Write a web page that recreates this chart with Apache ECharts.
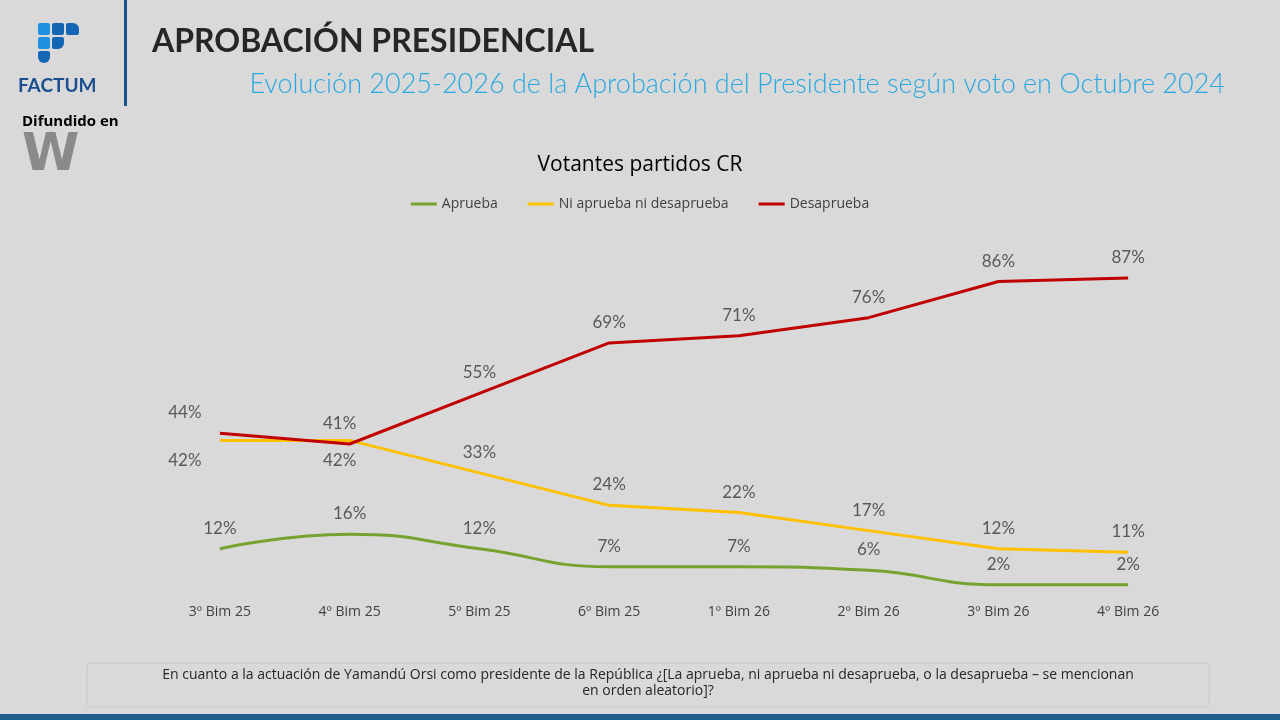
<!DOCTYPE html>
<html>
<head>
<meta charset="utf-8">
<script src="https://cdn.jsdelivr.net/npm/echarts@6/dist/echarts.min.js"></script>
<style>
  html, body { margin: 0; padding: 0; background: #d9d9d9; }
  #main { width: 1280px; height: 720px; }
</style>
</head>
<body>
<div id="main"></div>
<script>
var categories = ['3º Bim 25', '4º Bim 25', '5º Bim 25', '6º Bim 25', '1º Bim 26', '2º Bim 26', '3º Bim 26', '4º Bim 26'];
var aprueba = [12, 16, 12, 7, 7, 6, 2, 2];
var ni = [42, 42, 33, 24, 22, 17, 12, 11];
var desaprueba = [44, 41, 55, 69, 71, 76, 86, 87];

var chart = echarts.init(document.getElementById('main'));
var lbl = { show: true, formatter: '{c}%', color: '#595959', fontSize: 17, fontFamily: 'Lato', position: 'top', distance: 12 };

function niData() {
    return ni.map(function(v, i) {
        if (i < 2) return { value: v, label: { position: 'bottom', offset: [i === 0 ? -35 : -10, 0] } };
        return v;
    });
}
function desData() {
    return desaprueba.map(function(v, i) {
        if (i < 2) return { value: v, label: { position: 'top', offset: [i === 0 ? -35 : -10, 0] } };
        return v;
    });
}

var option = {
    backgroundColor: '#d9d9d9',
    title: [{
        text: 'Votantes partidos CR', left: 'center', top: 150,
        textStyle: { fontSize: 21, fontWeight: 'normal', color: '#000', fontFamily: 'Open Sans' }
    }],
    legend: {
        top: 192, left: 'center', itemWidth: 26, itemHeight: 3, icon: 'rect', itemGap: 30,
        textStyle: { fontSize: 14, color: '#404040', fontFamily: 'Open Sans' },
        data: ['Aprueba', 'Ni aprueba ni desaprueba', 'Desaprueba']
    },
    grid: { left: 155, right: 87, top: 231, bottom: 128 },
    xAxis: {
        type: 'category', data: categories,
        axisLine: { show: false }, axisTick: { show: false },
        axisLabel: { fontSize: 14, color: '#404040', fontFamily: 'Open Sans', margin: 13 }
    },
    yAxis: { type: 'value', min: 0, max: 100, show: false },
    series: [{
        name: 'Aprueba', type: 'line', data: aprueba, smooth: true, symbol: 'circle', symbolSize: 0,
        lineStyle: { color: '#77a22f', width: 3 }, itemStyle: { color: '#77a22f' }, label: lbl
    }, {
        name: 'Ni aprueba ni desaprueba', type: 'line', data: niData(), symbol: 'circle', symbolSize: 0,
        lineStyle: { color: '#ffc000', width: 3 }, itemStyle: { color: '#ffc000' }, label: lbl
    }, {
        name: 'Desaprueba', type: 'line', data: desData(), symbol: 'circle', symbolSize: 0,
        lineStyle: { color: '#c00000', width: 3 }, itemStyle: { color: '#c00000' }, label: lbl
    }],
    graphic: [
        // Logo squares
        { type: 'rect', shape: { x: 38, y: 23, width: 12, height: 12, r: 2 }, style: { fill: '#1e90e0' } },
        { type: 'rect', shape: { x: 52, y: 23, width: 12, height: 12, r: 2 }, style: { fill: '#1565b5' } },
        { type: 'rect', shape: { x: 66, y: 23, width: 13, height: 12, r: [2, 6, 2, 2] }, style: { fill: '#1565b5' } },
        { type: 'rect', shape: { x: 38, y: 37, width: 12, height: 12, r: 2 }, style: { fill: '#1e90e0' } },
        { type: 'rect', shape: { x: 52, y: 37, width: 12, height: 12, r: [2, 2, 6, 2] }, style: { fill: '#1565b5' } },
        { type: 'rect', shape: { x: 38, y: 51, width: 12, height: 12, r: [2, 2, 6, 6] }, style: { fill: '#1565b5' } },
        { type: 'text', left: 18, top: 76, style: { text: 'FACTUM', fontSize: 19, fontWeight: 'bold', fill: '#1a4f8f', fontFamily: 'Lato' } },
        { type: 'rect', shape: { x: 124, y: 0, width: 3, height: 106 }, style: { fill: '#1a4f8f' } },
        { type: 'text', left: 22, top: 114, style: { text: 'Difundido en', fontSize: 15, fontWeight: 'bold', fill: '#000', fontFamily: 'Open Sans' } },
        { type: 'text', left: 22, top: 130, style: { text: 'W', fontSize: 52, fontWeight: 'bold', fill: '#8a8a8a', fontFamily: 'DejaVu Sans' } },
        // Titles
        { type: 'text', left: 152, top: 26, style: { text: 'APROBACIÓN PRESIDENCIAL', fontSize: 32, fontWeight: 'bold', fill: '#262626', fontFamily: 'Lato' } },
        { type: 'text', right: 55, top: 71, style: { text: 'Evolución 2025-2026 de la Aprobación del Presidente según voto en Octubre 2024', fontSize: 27, fontWeight: 300, fill: '#29a8e0', fontFamily: 'Lato' } },
        // Footer box
        { type: 'rect', shape: { x: 87, y: 663, width: 1122, height: 44, r: 4 }, style: { fill: '#d9d9d9', stroke: '#c8c8c8', lineWidth: 1 } },
        { type: 'text', x: 648, y: 667, style: { text: 'En cuanto a la actuación de Yamandú Orsi como presidente de la República ¿[La aprueba, ni aprueba ni desaprueba, o la desaprueba – se mencionan\nen orden aleatorio]?', fontSize: 14, fill: '#262626', fontFamily: 'Open Sans', align: 'center', lineHeight: 16 } },
        { type: 'rect', shape: { x: 0, y: 714, width: 1280, height: 6 }, style: { fill: '#1f5f8f' } }
    ]
};
chart.setOption(option);
</script>
</body>
</html>
